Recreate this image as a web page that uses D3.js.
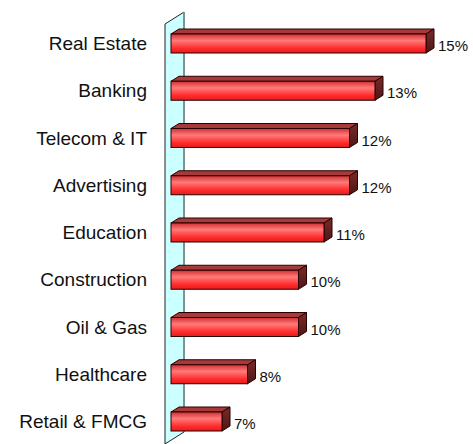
<!DOCTYPE html>
<html>
<head>
<meta charset="utf-8">
<script src="https://cdn.jsdelivr.net/npm/d3@7"></script>
<style>
  body { margin: 0; background: #fff; }
  svg { display: block; font-family: "Liberation Sans", Arial, sans-serif; }
</style>
</head>
<body>
<svg width="473" height="444"></svg>
<script>
// Sectors and their share (%)
const categories = ["Real Estate", "Banking", "Telecom & IT", "Advertising", "Education",
  "Construction", "Oil & Gas", "Healthcare", "Retail & FMCG"];
const values = [15, 13, 12, 12, 11, 10, 10, 8, 7];
const valueLabels = ["15%", "13%", "12%", "12%", "11%", "10%", "10%", "8%", "7%"];

const data = categories.map((c, i) => ({ label: c, value: values[i], text: valueLabels[i] }));

const svg = d3.select("svg");

// axis starts at 5%
const xScale = d3.scaleLinear().domain([5, 16]).range([171, 451.5]);
const yScale = d3.scalePoint().domain(categories).range([43.5, 421.5]);

const barH = 19;
const dx = 8, dy = -5;   // depth of the bars
const wdx = 19, wdy = -12; // depth of the wall

// gradients
const defs = svg.append("defs");
const front = defs.append("linearGradient").attr("id", "front")
  .attr("x1", 0).attr("y1", 0).attr("x2", 0).attr("y2", 1);
front.append("stop").attr("offset", "0%").attr("stop-color", "#d03030");
front.append("stop").attr("offset", "35%").attr("stop-color", "#ff7a7a");
front.append("stop").attr("offset", "75%").attr("stop-color", "#ff2c2c");
front.append("stop").attr("offset", "100%").attr("stop-color", "#e41c1c");

const side = defs.append("linearGradient").attr("id", "side")
  .attr("x1", 0).attr("y1", 0).attr("x2", 0).attr("y2", 1);
side.append("stop").attr("offset", "0%").attr("stop-color", "#7a2a2a");
side.append("stop").attr("offset", "100%").attr("stop-color", "#4c1616");

// the left wall
const wx = xScale(5) - 6;
const wTop = 24, wBottom = 444;
svg.append("path")
  .attr("d", `M${wx},${wTop} L${wx + wdx},${wTop + wdy} L${wx + wdx},${wBottom + wdy} L${wx},${wBottom} Z`)
  .attr("fill", "#ccffff")
  .attr("stroke", "#222")
  .attr("stroke-width", 1);
svg.append("line")
  .attr("x1", wx + wdx).attr("x2", wx + wdx)
  .attr("y1", wTop + wdy).attr("y2", wBottom + wdy)
  .attr("stroke", "#7d9494")
  .attr("stroke-width", 2);

// bars
const bars = svg.selectAll(".bar")
  .data(data)
  .enter()
  .append("g")
  .classed("bar", true);

bars.append("path") // top face
  .attr("d", d => {
    const x0 = xScale(5), x1 = xScale(d.value), t = yScale(d.label) - barH / 2;
    return `M${x0},${t} L${x0 + dx},${t + dy} L${x1 + dx},${t + dy} L${x1},${t} Z`;
  })
  .attr("fill", "#a63a3a")
  .attr("stroke", "#2a0000")
  .attr("stroke-width", 1)
  .attr("stroke-linejoin", "round");

bars.append("path") // end face
  .attr("d", d => {
    const x1 = xScale(d.value), t = yScale(d.label) - barH / 2, b = t + barH;
    return `M${x1},${t} L${x1 + dx},${t + dy} L${x1 + dx},${b + dy} L${x1},${b} Z`;
  })
  .attr("fill", "url(#side)")
  .attr("stroke", "#2a0000")
  .attr("stroke-width", 1)
  .attr("stroke-linejoin", "round");

bars.append("rect") // front face
  .attr("x", xScale(5))
  .attr("y", d => yScale(d.label) - barH / 2)
  .attr("width", d => xScale(d.value) - xScale(5))
  .attr("height", barH)
  .attr("fill", "url(#front)")
  .attr("stroke", "#2a0000")
  .attr("stroke-width", 1);

// category labels
svg.selectAll(".cat")
  .data(data)
  .enter()
  .append("text")
  .classed("cat", true)
  .attr("x", 147)
  .attr("y", d => yScale(d.label) + 6.5)
  .attr("text-anchor", "end")
  .attr("font-size", "19px")
  .attr("fill", "#111")
  .text(d => d.label);

// value labels
svg.selectAll(".val")
  .data(data)
  .enter()
  .append("text")
  .classed("val", true)
  .attr("x", d => xScale(d.value) + dx + 4)
  .attr("y", d => yScale(d.label) + 7.5)
  .attr("font-size", "15px")
  .attr("fill", "#111")
  .text(d => d.text);
</script>
</body>
</html>
